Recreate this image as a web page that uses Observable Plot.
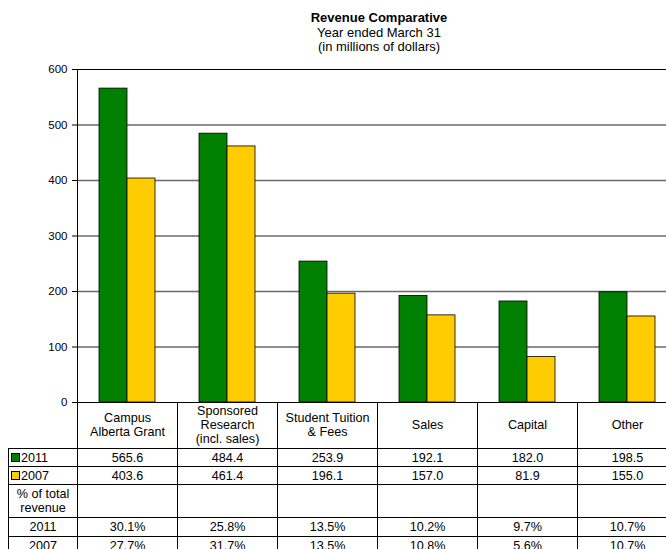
<!DOCTYPE html>
<html>
<head>
<meta charset="utf-8">
<script src="https://cdn.jsdelivr.net/npm/d3@7"></script>
<script src="https://cdn.jsdelivr.net/npm/@observablehq/plot@0.6"></script>
<style>
  html, body { margin: 0; padding: 0; background: #fff; overflow: hidden; width: 666px; height: 549px; }
  body { position: relative; font-family: "Liberation Sans", Arial, sans-serif; color: #000; }
  #title { position: absolute; left: 229px; width: 300px; top: 11px; text-align: center; font-size: 13px; line-height: 14.5px; }
  #title b { font-weight: bold; }
  #chart { position: absolute; left: 0; top: 0; width: 700px; }
  #tbl { position: absolute; left: 8px; top: 401.5px; width: 669px; border-collapse: collapse; table-layout: fixed; font-size: 12.6px; }
  #tbl td { border: 1px solid #000; text-align: center; padding: 0; line-height: 14px; overflow: hidden; white-space: nowrap; }
  #tbl td.blank { border-left: none; border-top: none; border-bottom: 1px solid #000; }
  #tbl td.leg { text-align: left; padding-left: 2px; }
  .sw { display: inline-block; width: 7px; height: 7px; border: 1px solid #000; margin-right: 1px; vertical-align: 0px; }
</style>
</head>
<body>
<div id="chart"></div>
<div id="title"><b>Revenue Comparative</b><br>Year ended March 31<br>(in millions of dollars)</div>
<table id="tbl"></table>
<script>
const categories = ["Campus Alberta Grant", "Sponsored Research (incl. sales)", "Student Tuition & Fees", "Sales", "Capital", "Other"];
const categoryLines = [["Campus", "Alberta Grant"], ["Sponsored", "Research", "(incl. sales)"], ["Student Tuition", "& Fees"], ["Sales"], ["Capital"], ["Other"]];
const years = ["2011", "2007"];
const values2011 = [565.6, 484.4, 253.9, 192.1, 182.0, 198.5];
const values2007 = [403.6, 461.4, 196.1, 157.0, 81.9, 155.0];
const pct2011 = [30.1, 25.8, 13.5, 10.2, 9.7, 10.7];
const pct2007 = [27.7, 31.7, 13.5, 10.8, 5.6, 10.7];
const yTicks = [0, 100, 200, 300, 400, 500, 600];
const colors = ["#008000", "#FFCC00"];

const data = [];
categories.forEach((c, i) => {
  data.push({category: c, year: years[0], value: values2011[i]});
  data.push({category: c, year: years[1], value: values2007[i]});
});

const chart = Plot.plot({
  width: 700,
  height: 412,
  marginLeft: 77,
  marginRight: 23,
  marginTop: 69,
  marginBottom: 10,
  style: {fontFamily: "'Liberation Sans', Arial, sans-serif", fontSize: "11.5px", color: "#000", background: "transparent", overflow: "visible", maxWidth: "none"},
  fx: {domain: categories, padding: 0, axis: null},
  x: {domain: years, paddingInner: 0, paddingOuter: 0.764, axis: null},
  y: {domain: [0, 600], axis: null},
  color: {domain: years, range: colors},
  marks: [
    Plot.ruleY(yTicks.filter(d => d > 0 && d < 600), {stroke: "#6a6a6a", strokeWidth: 1.5}),
    Plot.ruleY([600], {stroke: "#000", strokeWidth: 1.2}),
    Plot.barY(data, {fx: "category", x: "year", y: "value", fill: "year", stroke: "#000", strokeWidth: 0.8, inset: 0}),
    Plot.ruleY([0], {stroke: "#000", strokeWidth: 1}),
    Plot.frame({anchor: "left", facetAnchor: "left", stroke: "#000", strokeWidth: 1}),
    Plot.axisY({ticks: yTicks, tickSize: 5, tickPadding: 5, tickFormat: d => String(d), facetAnchor: "left", anchor: "left", label: null, fontSize: 11.5, fill: "#000", stroke: "#000"})
  ]
});
chart.style.maxWidth = "none";
document.getElementById("chart").appendChild(chart);

// data table
const tbl = document.getElementById("tbl");
const colg = document.createElement("colgroup");
[69, 100, 100, 100, 100, 100, 100].forEach(w => {
  const col = document.createElement("col");
  col.style.width = w + "px";
  colg.appendChild(col);
});
tbl.appendChild(colg);

function addRow(height, firstHtml, firstClass, cells) {
  const tr = document.createElement("tr");
  const td0 = document.createElement("td");
  td0.innerHTML = firstHtml;
  if (firstClass) td0.className = firstClass;
  td0.style.height = height + "px";
  tr.appendChild(td0);
  cells.forEach(c => {
    const td = document.createElement("td");
    td.innerHTML = c;
    tr.appendChild(td);
  });
  tbl.appendChild(tr);
}
addRow(46, "", "blank", categoryLines.map(l => l.join("<br>")));
addRow(17, `<span class="sw" style="background:${colors[0]}"></span>${years[0]}`, "leg", values2011.map(v => v.toFixed(1)));
addRow(17, `<span class="sw" style="background:${colors[1]}"></span>${years[1]}`, "leg", values2007.map(v => v.toFixed(1)));
addRow(32, "% of total<br>revenue", "", categories.map(() => ""));
addRow(18, years[0], "", pct2011.map(v => v.toFixed(1) + "%"));
addRow(18, years[1], "", pct2007.map(v => v.toFixed(1) + "%"));
</script>
</body>
</html>
